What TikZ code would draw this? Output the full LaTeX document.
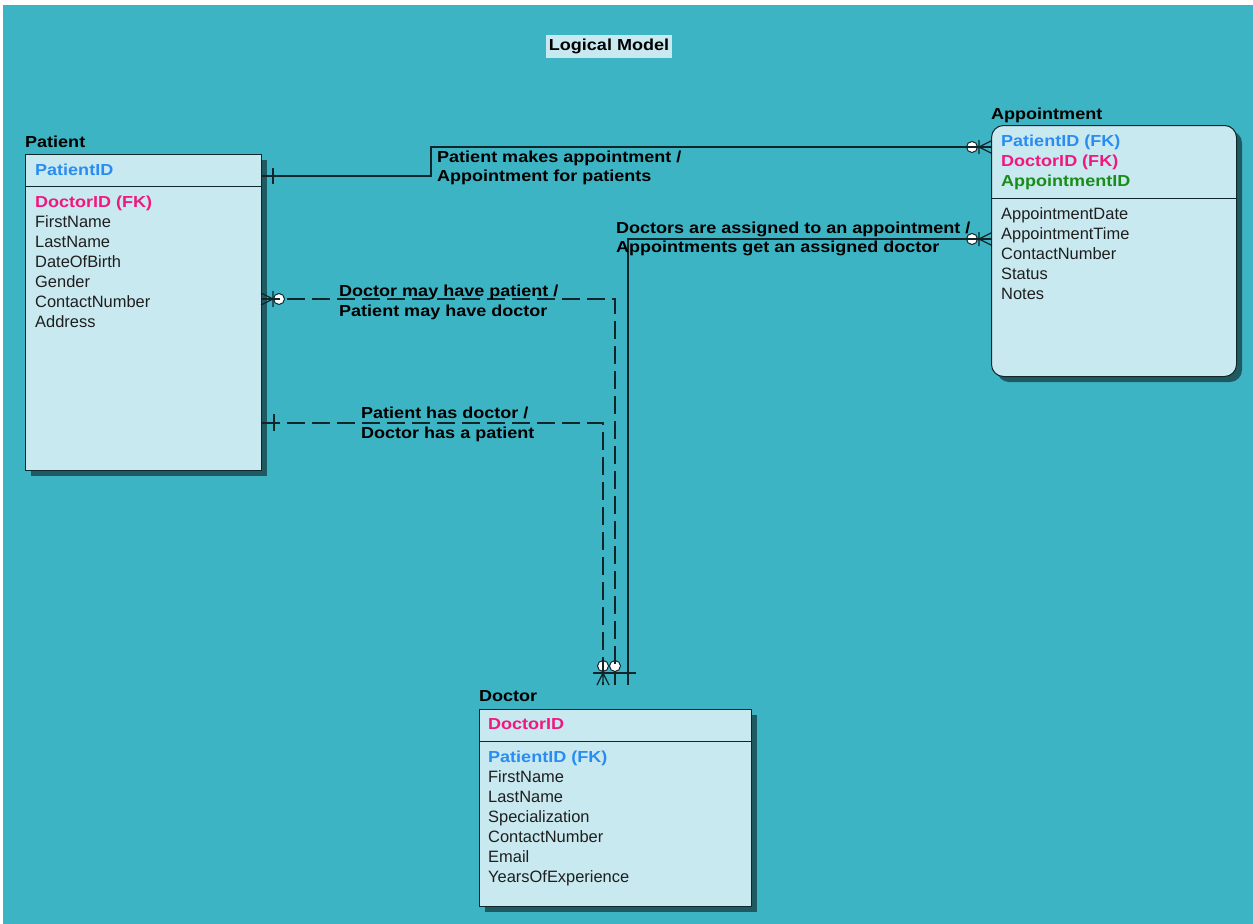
\documentclass[tikz,border=0pt]{standalone}
\usepackage{fontspec}
\setmainfont{Liberation Sans}
\newfontfamily\widebold[FakeStretch=1.13]{Liberation Sans Bold}
\usetikzlibrary{calc}
\definecolor{bg}{HTML}{3DB4C4}
\definecolor{boxfill}{HTML}{C9E9F0}
\definecolor{ln}{HTML}{10262B}
\definecolor{shd}{HTML}{1F5A62}
\definecolor{kblue}{HTML}{2A8CF0}
\definecolor{kpink}{HTML}{F0187F}
\definecolor{kgreen}{HTML}{1A8C1A}
\definecolor{txt}{HTML}{1E1E1E}
\begin{document}
\begin{tikzpicture}[x=1bp,y=-1bp,
  font=\fontsize{16.5}{20}\selectfont,
  entity/.style={draw=ln, line width=1bp, fill=boxfill, inner sep=0, anchor=north west},
  attr/.style={anchor=base west, inner sep=0, text=txt},
  key/.style={anchor=base west, inner sep=0, font=\fontsize{16}{20}\widebold},
  ttl/.style={anchor=base west, inner sep=0, font=\fontsize{16}{20}\widebold, text=black},
  lbl/.style={anchor=base west, inner sep=0, font=\fontsize{16}{20}\widebold, text=black},
  conn/.style={draw=ln, line width=1.3bp},
  dashconn/.style={conn, dash pattern=on 18bp off 7bp},
  cmark/.style={draw=ln, line width=1.3bp},
  ocirc/.style={draw=ln, line width=1bp, fill=white}
]
\useasboundingbox (0,0) rectangle (1253,924);
\fill[white] (0,0) rectangle (1253,924);
\fill[bg] (3,5) rectangle (1253,924);

% title
\node[fill=boxfill, inner sep=0, minimum width=126bp, minimum height=23bp,
      font=\fontsize{16}{20}\widebold] (title) at (609,46) {Logical Model};

% shadows
\fill[shd] (31,160) rectangle (267,476);
\fill[shd, rounded corners=12bp] (997,131) rectangle (1242,382);
\fill[shd] (485,715) rectangle (757,912);

% Patient
\node[ttl] (patt) at (25,147) {Patient};
\node[entity, minimum width=236bp, minimum height=316bp] (pat) at (25,154) {};
\draw[ln, line width=1bp] ($(pat.north west)+(0,32)$) -- ($(pat.north east)+(0,32)$);
\node[key, text=kblue] (pk) at (35,175.5) {PatientID};
\node[key, text=kpink] (pfk) at (35,207.5) {DoctorID (FK)};
\foreach \t [count=\i from 0] in {FirstName,LastName,DateOfBirth,Gender,ContactNumber,Address}
  \node[attr] (pa\i) at (35,227.5+20*\i) {\t};

% Appointment
\node[ttl] (appt) at (991,119) {Appointment};
\node[entity, rounded corners=12bp, minimum width=245bp, minimum height=251bp] (app) at (991,125) {};
\draw[ln, line width=1bp] ($(app.north west)+(0,73)$) -- ($(app.north east)+(0,73)$);
\node[key, text=kblue] (ak1) at (1001,146.5) {PatientID (FK)};
\node[key, text=kpink] (ak2) at (1001,166.5) {DoctorID (FK)};
\node[key, text=kgreen] (ak3) at (1001,186.5) {AppointmentID};
\foreach \t [count=\i from 0] in {AppointmentDate,AppointmentTime,ContactNumber,Status,Notes}
  \node[attr] (aa\i) at (1001,219.5+20*\i) {\t};

% Doctor
\node[ttl] (doct) at (479,701) {Doctor};
\node[entity, minimum width=272bp, minimum height=197bp] (doc) at (479,709) {};
\draw[ln, line width=1bp] ($(doc.north west)+(0,32)$) -- ($(doc.north east)+(0,32)$);
\node[key, text=kpink] (dk) at (488,729.5) {DoctorID};
\node[key, text=kblue] (dfk) at (488,762.5) {PatientID (FK)};
\foreach \t [count=\i from 0] in {FirstName,LastName,Specialization,ContactNumber,Email,YearsOfExperience}
  \node[attr] (da\i) at (488,782.5+20*\i) {\t};

% connector end points
\coordinate (p1) at ($(pat.north east)+(0,22)$);
\coordinate (a1) at ($(app.north west)+(0,22)$);
\coordinate (a2) at ($(app.north west)+(0,114)$);
\coordinate (p3) at ($(pat.north east)+(0,145)$);
\coordinate (p4) at ($(pat.north east)+(0,269)$);
\coordinate (d2) at ($(doc.north west)+(149,-24)$);
\coordinate (d3) at ($(doc.north west)+(136,-24)$);
\coordinate (d4) at ($(doc.north west)+(124,-24)$);

% optional circles (under the lines)
\draw[ocirc] (972,147) circle (5.5);
\draw[ocirc] (972,239) circle (5.5);
\draw[ocirc] (279,299) circle (5.5);
\draw[ocirc] (603,666) circle (5.5);
\draw[ocirc] (615,666) circle (5.5);

% connectors
\draw[conn] (p1) -- ++(169,0) |- (a1);
\draw[conn] (a2) -| (d2);
\draw[dashconn] (p3) -| (d3);
\draw[dashconn] (p4) -| (d4);

% cardinality marks
\draw[cmark] (273,168) -- (273,184);
\draw[cmark] (979,140) -- (979,154) (979,147) -- (991,141) (979,147) -- (991,153);
\draw[cmark] (979,232) -- (979,246) (979,239) -- (991,233) (979,239) -- (991,245);
\draw[cmark] (273,291) -- (273,307) (273,299) -- (261,293) (273,299) -- (261,305);
\draw[cmark] (274,414) -- (274,431);
\draw[cmark] (593,673) -- (636,673);
\draw[cmark] (603,673) -- (597,685) (603,673) -- (609,685) (603,673) -- (603,685);

% labels
\node[lbl] (l1a) at (437,162.5) {Patient makes appointment /};
\node[lbl] (l1b) at (437,181.5) {Appointment for patients};
\node[lbl] (l2a) at (616,233.5) {Doctors are assigned to an appointment /};
\node[lbl] (l2b) at (616,252.5) {Appointments get an assigned doctor};
\node[lbl] (l3a) at (339,296.5) {Doctor may have patient /};
\node[lbl] (l3b) at (339,316.5) {Patient may have doctor};
\node[lbl] (l4a) at (361,418.5) {Patient has doctor /};
\node[lbl] (l4b) at (361,438.5) {Doctor has a patient};
\end{tikzpicture}
\end{document}
